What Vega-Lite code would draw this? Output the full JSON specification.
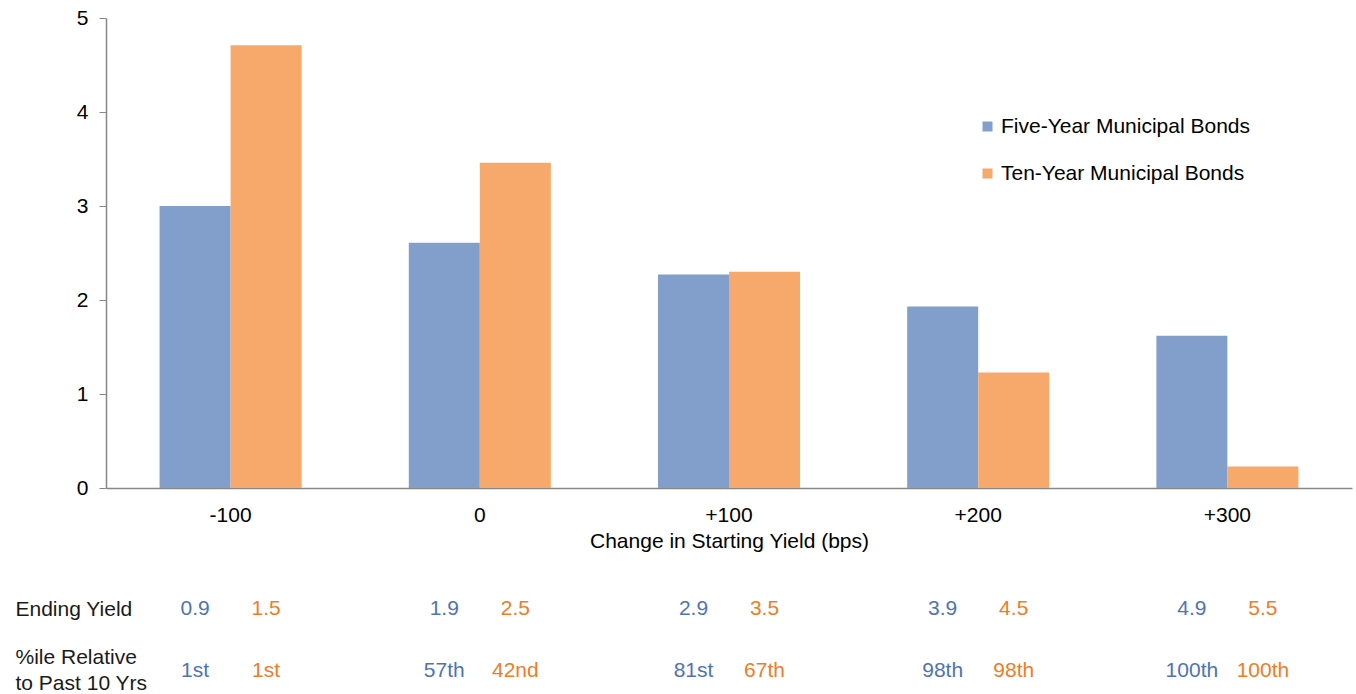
{
  "$schema": "https://vega.github.io/schema/vega-lite/v6.json",
  "padding": {"top": 7, "left": 15, "right": 4, "bottom": 0},
  "background": "white",
  "config": {
    "font": "Liberation Sans",
    "view": {"stroke": null},
    "axis": {"labelFont": "Liberation Sans", "titleFont": "Liberation Sans", "labelFontSize": 21, "titleFontSize": 21, "labelColor": "#000000", "titleColor": "#000000", "titleFontWeight": "normal", "grid": false}
  },
  "spacing": 43,
  "resolve": {"scale": {"color": "independent"}, "legend": {"color": "independent"}},
  "vconcat": [
    {
      "width": 1246,
      "height": 470,
      "data": {"values": [
        {"change": "-100", "series": "Five-Year Municipal Bonds", "value": 3.0},
        {"change": "-100", "series": "Ten-Year Municipal Bonds", "value": 4.71},
        {"change": "0", "series": "Five-Year Municipal Bonds", "value": 2.61},
        {"change": "0", "series": "Ten-Year Municipal Bonds", "value": 3.46},
        {"change": "+100", "series": "Five-Year Municipal Bonds", "value": 2.27},
        {"change": "+100", "series": "Ten-Year Municipal Bonds", "value": 2.30},
        {"change": "+200", "series": "Five-Year Municipal Bonds", "value": 1.93},
        {"change": "+200", "series": "Ten-Year Municipal Bonds", "value": 1.23},
        {"change": "+300", "series": "Five-Year Municipal Bonds", "value": 1.62},
        {"change": "+300", "series": "Ten-Year Municipal Bonds", "value": 0.23}
      ]},
      "mark": {"type": "bar"},
      "encoding": {
        "x": {
          "field": "change", "type": "nominal",
          "sort": ["-100", "0", "+100", "+200", "+300"],
          "scale": {"paddingInner": 0.43, "paddingOuter": 0.215},
          "axis": {"title": "Change in Starting Yield (bps)", "labelAngle": 0, "ticks": false, "domainColor": "#878787", "domainWidth": 1.5, "labelPadding": 16, "titlePadding": 5}
        },
        "xOffset": {"field": "series", "type": "nominal", "sort": ["Five-Year Municipal Bonds", "Ten-Year Municipal Bonds"], "scale": {"paddingInner": 0, "paddingOuter": 0}},
        "y": {
          "field": "value", "type": "quantitative",
          "scale": {"domain": [0, 5], "nice": false},
          "axis": {"title": null, "values": [0, 1, 2, 3, 4, 5], "tickSize": 7, "tickColor": "#878787", "domainColor": "#878787", "domainWidth": 1.5, "labelPadding": 11}
        },
        "color": {
          "field": "series", "type": "nominal",
          "scale": {"domain": ["Five-Year Municipal Bonds", "Ten-Year Municipal Bonds"], "range": ["#829fcb", "#f6a96a"]},
          "legend": {
            "title": null, "orient": "none", "legendX": 871, "legendY": 98,
            "symbolType": "square", "symbolSize": 100, "symbolStrokeWidth": 0,
            "labelFontSize": 21, "labelFont": "Liberation Sans", "labelColor": "#000000", "labelLimit": 0,
            "rowPadding": 25, "labelOffset": 3, "padding": 0
          }
        }
      }
    },
    {
      "width": 1246,
      "height": 92,
      "data": {"values": [
        {"change": "-100", "series": "Five-Year Municipal Bonds", "row": "Ending Yield", "text": "0.9"},
        {"change": "-100", "series": "Ten-Year Municipal Bonds", "row": "Ending Yield", "text": "1.5"},
        {"change": "0", "series": "Five-Year Municipal Bonds", "row": "Ending Yield", "text": "1.9"},
        {"change": "0", "series": "Ten-Year Municipal Bonds", "row": "Ending Yield", "text": "2.5"},
        {"change": "+100", "series": "Five-Year Municipal Bonds", "row": "Ending Yield", "text": "2.9"},
        {"change": "+100", "series": "Ten-Year Municipal Bonds", "row": "Ending Yield", "text": "3.5"},
        {"change": "+200", "series": "Five-Year Municipal Bonds", "row": "Ending Yield", "text": "3.9"},
        {"change": "+200", "series": "Ten-Year Municipal Bonds", "row": "Ending Yield", "text": "4.5"},
        {"change": "+300", "series": "Five-Year Municipal Bonds", "row": "Ending Yield", "text": "4.9"},
        {"change": "+300", "series": "Ten-Year Municipal Bonds", "row": "Ending Yield", "text": "5.5"},
        {"change": "-100", "series": "Five-Year Municipal Bonds", "row": "%ile Relative to Past 10 Yrs", "text": "1st"},
        {"change": "-100", "series": "Ten-Year Municipal Bonds", "row": "%ile Relative to Past 10 Yrs", "text": "1st"},
        {"change": "0", "series": "Five-Year Municipal Bonds", "row": "%ile Relative to Past 10 Yrs", "text": "57th"},
        {"change": "0", "series": "Ten-Year Municipal Bonds", "row": "%ile Relative to Past 10 Yrs", "text": "42nd"},
        {"change": "+100", "series": "Five-Year Municipal Bonds", "row": "%ile Relative to Past 10 Yrs", "text": "81st"},
        {"change": "+100", "series": "Ten-Year Municipal Bonds", "row": "%ile Relative to Past 10 Yrs", "text": "67th"},
        {"change": "+200", "series": "Five-Year Municipal Bonds", "row": "%ile Relative to Past 10 Yrs", "text": "98th"},
        {"change": "+200", "series": "Ten-Year Municipal Bonds", "row": "%ile Relative to Past 10 Yrs", "text": "98th"},
        {"change": "+300", "series": "Five-Year Municipal Bonds", "row": "%ile Relative to Past 10 Yrs", "text": "100th"},
        {"change": "+300", "series": "Ten-Year Municipal Bonds", "row": "%ile Relative to Past 10 Yrs", "text": "100th"}
      ]},
      "mark": {"type": "text", "fontSize": 21, "font": "Liberation Sans", "align": "center", "baseline": "middle"},
      "encoding": {
        "x": {
          "field": "change", "type": "nominal",
          "sort": ["-100", "0", "+100", "+200", "+300"],
          "scale": {"paddingInner": 0.43, "paddingOuter": 0.215},
          "axis": null
        },
        "xOffset": {"field": "series", "type": "nominal", "sort": ["Five-Year Municipal Bonds", "Ten-Year Municipal Bonds"], "scale": {"paddingInner": 0, "paddingOuter": 0}},
        "y": {
          "field": "row", "type": "nominal",
          "sort": ["Ending Yield", "%ile Relative to Past 10 Yrs"],
          "scale": {"padding": 0.25},
          "axis": {"title": null, "domain": false, "ticks": false, "labelAlign": "left", "labelPadding": 91, "labelColor": "#1a1a1a", "labelLineHeight": 26,
            "labelOffset": {"condition": {"test": "datum.value == 'Ending Yield'", "value": 0}, "value": -13},
            "labelExpr": "datum.label == 'Ending Yield' ? datum.label : ['%ile Relative', 'to Past 10 Yrs']"}
        },
        "text": {"field": "text", "type": "nominal"},
        "color": {
          "field": "series", "type": "nominal",
          "scale": {"domain": ["Five-Year Municipal Bonds", "Ten-Year Municipal Bonds"], "range": ["#4e73b5", "#f07c25"]},
          "legend": null
        }
      }
    }
  ]
}
